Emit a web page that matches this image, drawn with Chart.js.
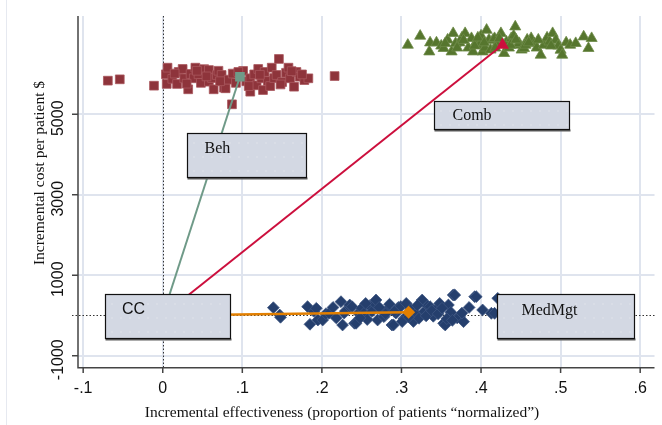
<!DOCTYPE html>
<html>
<head>
<meta charset="utf-8">
<script src="https://cdn.jsdelivr.net/npm/chart.js@4.4.0/dist/chart.umd.min.js"></script>
<style>
  body { margin: 0; background: #fff; }
  #wrap { position: relative; width: 662px; height: 425px; }
  #edge { position: absolute; left: 6px; top: 0; width: 1px; height: 425px; background: #e6e9f0; }
</style>
</head>
<body>
<div id="wrap"><div id="edge"></div><canvas id="chart"></canvas></div>
<script>
// Data
const behX = [-0.069, -0.054, -0.011, 0.004, 0.005, 0.006, 0.012, 0.018, 0.020, 0.025, 0.027, 0.032, 0.035, 0.039, 0.041, 0.045, 0.048, 0.052, 0.058, 0.058, 0.062, 0.064, 0.068, 0.070, 0.074, 0.077, 0.079, 0.083, 0.087, 0.088, 0.092, 0.101, 0.105, 0.110, 0.110, 0.115, 0.118, 0.120, 0.124, 0.126, 0.128, 0.132, 0.135, 0.137, 0.140, 0.143, 0.146, 0.150, 0.155, 0.158, 0.160, 0.165, 0.168, 0.172, 0.178, 0.183, 0.216,
  0.015, 0.030, 0.043, 0.055, 0.072, 0.095, 0.108, 0.122, 0.148, 0.162, 0.175];
const behY = [5834, 5868, 5709, 5993, 5752, 6157, 5880, 5752, 6050, 6124, 5893, 5620, 6000, 5893, 6157, 5993, 5780, 6120, 6099, 5809, 5900, 5620, 5975, 6080, 5975, 5660, 5645, 5860, 5247, 6010, 5780, 6075, 5820, 5560, 5893, 5990, 5720, 6124, 5893, 5602, 6050, 5826, 5700, 6157, 5900, 5975, 6373, 5800, 6030, 6157, 5893, 5684, 6050, 5933, 5850, 5893, 5950,
  6010, 5760, 6080, 5940, 5820, 6050, 5700, 5980, 5740, 6070, 5990];

const combX = [0.308, 0.3235, 0.335, 0.336, 0.344, 0.350, 0.353, 0.358, 0.363, 0.365, 0.368, 0.373, 0.376, 0.380, 0.384, 0.388, 0.390, 0.394, 0.398, 0.400, 0.402, 0.405, 0.407, 0.410, 0.412, 0.415, 0.417, 0.420, 0.425, 0.429, 0.432, 0.435, 0.438, 0.441, 0.443, 0.446, 0.448, 0.451, 0.454, 0.458, 0.463, 0.467, 0.470, 0.475, 0.479, 0.483, 0.486, 0.490, 0.494, 0.497, 0.500, 0.502, 0.507, 0.512, 0.519, 0.529, 0.535, 0.539,
  0.355, 0.370, 0.378, 0.392, 0.396, 0.404, 0.418, 0.423, 0.437, 0.444, 0.456, 0.460, 0.472, 0.488];
const combY = [6720, 6944, 6554, 6778, 6778, 6700, 6639, 6850, 6554, 7011, 6760, 6778, 6900, 7011, 6650, 6887, 6554, 6800, 6720, 6950, 6554, 6650, 7093, 6850, 6600, 6845, 6887, 6750, 7011, 6514, 6800, 6650, 6887, 6950, 7175, 6720, 6763, 6600, 6639, 6850, 6887, 6760, 6650, 6472, 6720, 6900, 6800, 7011, 6845, 6700, 6596, 6472, 6780, 6720, 6763, 6927, 6639, 6887,
  6760, 6650, 6840, 6700, 6900, 6780, 6650, 6880, 6720, 6850, 6720, 6780, 6850, 6700];

const medX = [0.139, 0.147, 0.148, 0.182, 0.185, 0.190, 0.193, 0.195, 0.201, 0.205, 0.209, 0.214, 0.218, 0.224, 0.226, 0.230, 0.235, 0.238, 0.241, 0.243, 0.246, 0.250, 0.253, 0.257, 0.260, 0.263, 0.266, 0.268, 0.270, 0.274, 0.278, 0.282, 0.285, 0.288, 0.290, 0.293, 0.296, 0.299, 0.303, 0.306, 0.312, 0.315, 0.318, 0.322, 0.326, 0.329, 0.333, 0.336, 0.340, 0.344, 0.348, 0.353, 0.355, 0.359, 0.362, 0.365, 0.367, 0.370, 0.373, 0.378, 0.385, 0.392, 0.394, 0.402, 0.413, 0.417, 0.421,
  0.228, 0.248, 0.255, 0.272, 0.280, 0.291, 0.301, 0.309, 0.320, 0.331, 0.338, 0.346, 0.351, 0.357, 0.364, 0.376];
const medY = [194, 12, -45, 219, -219, 100, 179, -112, -112, 40, 55, 200, -60, 343, -236, 120, 260, 219, -194, -194, 60, 180, 55, -100, 240, 100, 303, 385, -112, 150, -30, 137, 280, -236, -236, 60, 200, 219, -80, 300, 150, -150, 40, -70, 385, 100, 240, 219, -20, 160, 300, -194, -236, 261, 80, 509, 509, -60, -30, -154, 200, 467, 467, 137, 55, 55, 427,
  60, -60, 300, 200, 40, 100, -150, -40, 250, -10, 120, 40, 180, -80, -120, 60];

// mean effect of each strategy against CC (usual care)
const strategies = ['CC', 'Beh', 'Comb', 'MedMgt'];
const meanX = [0, 0.097, 0.427, 0.309];
const meanY = [0, 5930, 6720, 80];

const xTicks = [-0.1, 0, 0.1, 0.2, 0.3, 0.4, 0.5, 0.6];
const xTickLabels = ['-.1', '0', '.1', '.2', '.3', '.4', '.5', '.6'];
const yTicks = [-1000, 1000, 3000, 5000];
const yTickLabels = ['-1000', '1000', '3000', '5000'];

// label boxes, in data units
const boxes = [
  { text: 'CC', x0: -0.0722, x1: 0.0849, y0: 527, y1: -566, dx: 16.5, dy: 15, font: '16px "Liberation Sans", Arial, sans-serif' },
  { text: 'Beh', x0: 0.0311, x1: 0.1806, y0: 4527, y1: 3433, dx: 17, dy: 15, font: '16px "Liberation Serif", "Times New Roman", serif' },
  { text: 'Comb', x0: 0.3406, x1: 0.510, y0: 5329, y1: 4634, dx: 18, dy: 14, font: '16px "Liberation Serif", "Times New Roman", serif' },
  { text: 'MedMgt', x0: 0.420, x1: 0.592, y0: 527, y1: -566, dx: 24, dy: 16, font: '16px "Liberation Serif", "Times New Roman", serif' }
];

const pts = (xs, ys) => xs.map((v, i) => ({ x: v, y: ys[i] }));
const seg = i => [{ x: meanX[0], y: meanY[0] }, { x: meanX[i], y: meanY[i] }];

const AXIS = '#444';

const extras = {
  id: 'extras',
  beforeDatasetsDraw(chart) {
    const { ctx, chartArea: a, scales: { x, y } } = chart;
    ctx.save();
    ctx.strokeStyle = '#333';
    ctx.lineWidth = 1;
    ctx.setLineDash([1.5, 2]);
    const x0 = Math.round(x.getPixelForValue(0)) + 0.5;
    ctx.beginPath(); ctx.moveTo(x0, a.top); ctx.lineTo(x0, a.bottom); ctx.stroke();
    const y0 = Math.round(y.getPixelForValue(0)) + 0.5;
    ctx.beginPath(); ctx.moveTo(a.left - 6, y0); ctx.lineTo(a.right, y0); ctx.stroke();
    ctx.restore();
  },
  afterDatasetsDraw(chart) {
    const { ctx, scales: { x, y } } = chart;
    ctx.save();
    boxes.forEach(b => {
      const l = Math.round(x.getPixelForValue(b.x0)) + 0.5;
      const r = Math.round(x.getPixelForValue(b.x1)) + 0.5;
      const t = Math.round(y.getPixelForValue(b.y0)) + 0.5;
      const bt = Math.round(y.getPixelForValue(b.y1)) + 0.5;
      ctx.fillStyle = '#5a5a5a';
      ctx.fillRect(l, bt, r - l + 1, 2);
      ctx.fillStyle = '#d3d8e3';
      ctx.fillRect(l, t, r - l, bt - t);
      ctx.fillStyle = 'rgba(255,255,255,0.55)';
      for (let yy = t + 9; yy < bt - 2; yy += 14) {
        for (let xx = l + 6; xx < r - 2; xx += 9) ctx.fillRect(xx, yy, 1, 1);
      }
      ctx.strokeStyle = '#111';
      ctx.lineWidth = 1.2;
      ctx.strokeRect(l, t, r - l, bt - t);
      ctx.fillStyle = '#111';
      ctx.font = b.font;
      ctx.textAlign = 'left';
      ctx.textBaseline = 'middle';
      ctx.fillText(b.text, l + b.dx, t + b.dy);
    });
    ctx.restore();
  },
  afterDraw(chart) {
    const { ctx, chartArea: a, scales: { x, y } } = chart;
    ctx.save();
    // axes
    ctx.strokeStyle = AXIS;
    ctx.lineWidth = 1.5;
    ctx.beginPath();
    ctx.moveTo(a.left, a.top); ctx.lineTo(a.left, a.bottom + 0.75);
    ctx.lineTo(a.right, a.bottom + 0.75);
    ctx.stroke();
    // tick marks + labels
    ctx.fillStyle = '#111';
    ctx.font = '16px "Liberation Sans", Arial, sans-serif';
    ctx.textAlign = 'center';
    ctx.textBaseline = 'middle';
    xTicks.forEach((v, i) => {
      const px = x.getPixelForValue(v);
      ctx.beginPath(); ctx.moveTo(px, a.bottom); ctx.lineTo(px, a.bottom + 6); ctx.stroke();
      ctx.fillText(xTickLabels[i], px, a.bottom + 22);
    });
    yTicks.forEach((v, i) => {
      const py = y.getPixelForValue(v);
      ctx.beginPath(); ctx.moveTo(a.left, py); ctx.lineTo(a.left - 6, py); ctx.stroke();
      ctx.save();
      ctx.translate(a.left - 19, py + 4);
      ctx.rotate(-Math.PI / 2);
      ctx.fillText(yTickLabels[i], 0, 0);
      ctx.restore();
    });
    // axis titles
    ctx.font = '15.5px "Liberation Serif", "Times New Roman", serif';
    ctx.fillText('Incremental effectiveness (proportion of patients \u201cnormalized\u201d)', 342, 413);
    ctx.save();
    ctx.translate(40, 173);
    ctx.rotate(-Math.PI / 2);
    ctx.fillText('Incremental cost per patient $', 0, 0);
    ctx.restore();
    ctx.restore();
  }
};

new Chart(document.getElementById('chart'), {
  type: 'scatter',
  data: {
    datasets: [
      { label: 'Beh', order: 2, data: pts(behX, behY), pointStyle: 'rect', pointRadius: 6.2, borderWidth: 0.8,
        backgroundColor: '#8e343b', borderColor: '#a9585e' },
      { label: 'Comb', order: 2, data: pts(combX, combY), pointStyle: 'triangle', pointRadius: 6.4, borderWidth: 0.8,
        backgroundColor: '#56762e', borderColor: '#6d8a48' },
      { label: 'MedMgt', order: 2, data: pts(medX, medY), pointStyle: 'rectRot', pointRadius: 5.9, borderWidth: 0.8,
        backgroundColor: '#253f6d', borderColor: '#3d5582' },
      { label: 'CC-Beh', order: 1, data: seg(1), showLine: true, borderColor: '#6f9a88', borderWidth: 2,
        pointStyle: 'rect', pointRadius: [0, 6.8], backgroundColor: '#6f9a88', pointBorderWidth: 0 },
      { label: 'CC-Comb', order: 1, data: seg(2), showLine: true, borderColor: '#cc0f3d', borderWidth: 2,
        pointStyle: 'triangle', pointRadius: [0, 7.5], backgroundColor: '#cc0f3d', pointBorderWidth: 0 },
      { label: 'CC-MedMgt', order: 1, data: seg(3), showLine: true, borderColor: '#e27f00', borderWidth: 2.5,
        pointStyle: 'rectRot', pointRadius: [0, 6.5], backgroundColor: '#e27f00', pointBorderWidth: 0 }
    ]
  },
  options: {
    responsive: true,
    maintainAspectRatio: false,
    animation: false,
    layout: { padding: { left: 78, top: 16, right: 2, bottom: 58 } },
    plugins: { legend: { display: false }, tooltip: { enabled: false } },
    scales: {
      x: {
        type: 'linear', min: -0.1065, max: 0.618,
        afterBuildTicks: s => { s.ticks = xTicks.map(v => ({ value: v })); },
        ticks: { display: false },
        grid: { color: '#dfe4ee', lineWidth: 2, drawTicks: false },
        border: { display: false }
      },
      y: {
        type: 'linear', min: -1280, max: 7441,
        afterBuildTicks: s => { s.ticks = yTicks.map(v => ({ value: v })); },
        ticks: { display: false },
        grid: { color: '#dfe4ee', lineWidth: 2, drawTicks: false },
        border: { display: false }
      }
    }
  },
  plugins: [extras]
});
</script>
</body>
</html>
